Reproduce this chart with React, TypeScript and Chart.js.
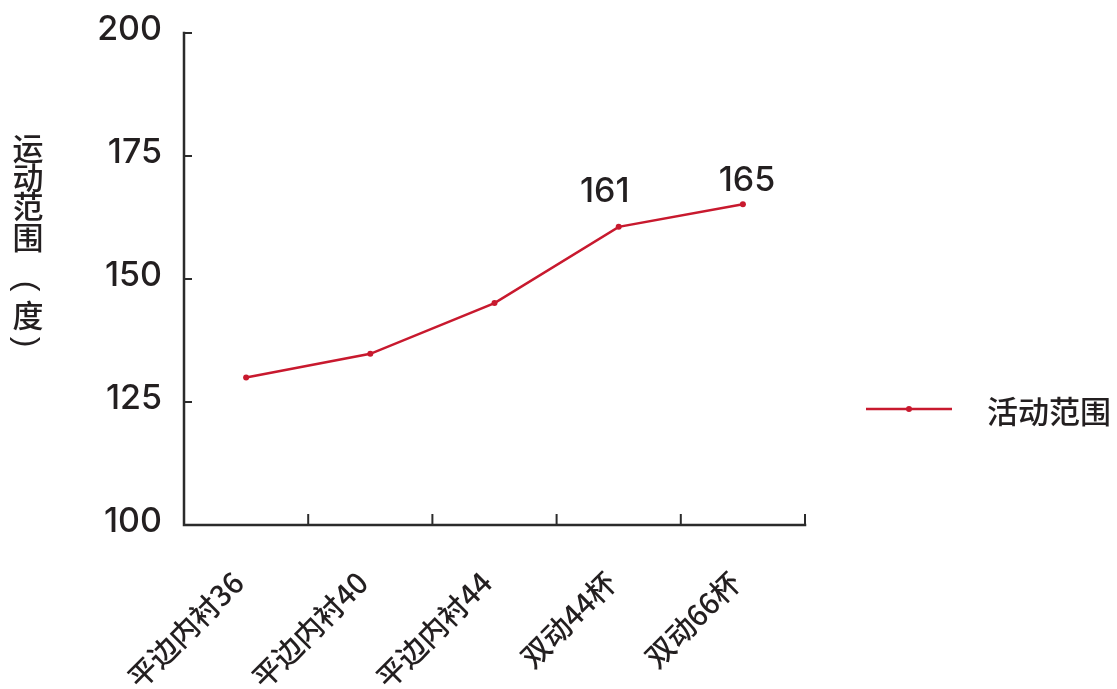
import React, { useEffect, useRef } from "react";
import { Chart, registerables } from "chart.js";

Chart.register(...registerables);

const categories = ["平边内衬36", "平边内衬40", "平边内衬44", "双动44杯", "双动66杯"];
const rangeValues = [130, 134.8, 145.1, 160.6, 165.2];
const pointLabels = ["", "", "", "161", "165"];
const yTicks = [100, 125, 150, 175, 200];
const seriesName = "活动范围";
const yTitleChars = ["运", "动", "范", "围", "(", "度", ")"];

const LINE_COLOR = "#c8192e";
const AXIS_COLOR = "#2b2b2b";
const TEXT_COLOR = "#231f20";
const NUM_FONT = "Inter, 'Liberation Sans', sans-serif";
const CJK_FONT = "'Noto Sans CJK SC', 'Liberation Sans', sans-serif";

const titleCenters = [148, 177, 206, 237, 286, 315, 342];

const decorPlugin = {
  id: "decor",
  afterDraw(chart: any) {
    const { ctx, chartArea, scales } = chart;
    const x = scales.x;
    const y = scales.y;
    ctx.save();
    // axes
    ctx.strokeStyle = AXIS_COLOR;
    ctx.lineWidth = 2.5;
    ctx.lineCap = "square";
    ctx.beginPath();
    ctx.moveTo(chartArea.left, chartArea.top);
    ctx.lineTo(chartArea.left, chartArea.bottom);
    ctx.lineTo(chartArea.right, chartArea.bottom);
    ctx.stroke();
    ctx.lineCap = "butt";
    ctx.lineWidth = 2;
    // y ticks (inward)
    y.ticks.forEach((t: any) => {
      const py = y.getPixelForValue(t.value);
      ctx.beginPath();
      ctx.moveTo(chartArea.left, py);
      ctx.lineTo(chartArea.left + 8, py);
      ctx.stroke();
    });
    // x ticks at category boundaries (inward)
    const n = categories.length;
    for (let i = 0; i < n; i++) {
      const px =
        i < n - 1
          ? (x.getPixelForValue(i) + x.getPixelForValue(i + 1)) / 2
          : chartArea.right;
      ctx.beginPath();
      ctx.moveTo(px, chartArea.bottom);
      ctx.lineTo(px, chartArea.bottom - 11);
      ctx.stroke();
    }
    // data labels
    const meta = chart.getDatasetMeta(0);
    ctx.fillStyle = TEXT_COLOR;
    ctx.font = `500 34px ${NUM_FONT}`;
    ctx.textAlign = "center";
    ctx.textBaseline = "alphabetic";
    meta.data.forEach((pt: any, i: number) => {
      const txt = pointLabels[i];
      if (!txt) return;
      const dx = i === 3 ? -14 : 4;
      const dy = i === 3 ? 25 : 13;
      ctx.fillText(txt, pt.x + dx, pt.y - dy);
    });
    // y title (stacked vertical)
    ctx.textBaseline = "middle";
    ctx.textAlign = "center";
    yTitleChars.forEach((c, i) => {
      const cy = titleCenters[i];
      if (c === "(" || c === ")") {
        ctx.save();
        ctx.font = `32px 'Liberation Sans', sans-serif`;
        ctx.translate(28, cy);
        ctx.rotate(Math.PI / 2);
        ctx.fillText(c, 0, 2);
        ctx.restore();
      } else {
        ctx.font = `500 31px ${CJK_FONT}`;
        ctx.fillText(c, 28, cy);
      }
    });
    // legend
    const ly = 409;
    ctx.strokeStyle = LINE_COLOR;
    ctx.lineWidth = 2.5;
    ctx.beginPath();
    ctx.moveTo(866, ly);
    ctx.lineTo(952, ly);
    ctx.stroke();
    ctx.fillStyle = LINE_COLOR;
    ctx.beginPath();
    ctx.arc(909, ly, 3, 0, Math.PI * 2);
    ctx.fill();
    ctx.fillStyle = TEXT_COLOR;
    ctx.font = `500 31px ${CJK_FONT}`;
    ctx.textAlign = "left";
    ctx.textBaseline = "middle";
    ctx.fillText(seriesName, 987, ly + 2);
    ctx.restore();
  },
};

export default function App() {
  const ref = useRef<HTMLCanvasElement | null>(null);
  useEffect(() => {
    if (!ref.current) return;
    const chart = new Chart(ref.current, {
      type: "line",
      data: {
        labels: categories,
        datasets: [
          {
            label: seriesName,
            data: rangeValues,
            borderColor: LINE_COLOR,
            backgroundColor: LINE_COLOR,
            borderWidth: 2.5,
            pointRadius: 3,
            pointBackgroundColor: LINE_COLOR,
            pointBorderWidth: 0,
            tension: 0,
          },
        ],
      },
      options: {
        responsive: false,
        animation: false,
        layout: { padding: { left: 0, right: 312, top: 33, bottom: 0 } },
        plugins: {
          legend: { display: false },
          tooltip: { enabled: false },
        },
        scales: {
          x: {
            type: "category",
            offset: true,
            grid: { display: false, drawTicks: false },
            border: { display: false },
            ticks: {
              minRotation: 45,
              maxRotation: 45,
              padding: 40,
              labelOffset: -8,
              color: TEXT_COLOR,
              font: { family: CJK_FONT, size: 29, weight: "500" },
            },
            afterFit: (s: any) => {
              s.height = 689 - 525;
              s.paddingLeft = 0;
              s.paddingRight = 0;
            },
          },
          y: {
            min: 100,
            max: 200,
            afterBuildTicks: (s: any) => {
              s.ticks = yTicks.map((v) => ({ value: v }));
            },
            grid: { display: false, drawTicks: false },
            border: { display: false },
            ticks: {
              padding: 22,
              labelOffset: -3,
              color: TEXT_COLOR,
              font: { family: NUM_FONT, size: 34, weight: "500" },
            },
            afterFit: (s: any) => {
              s.width = 184;
              s.paddingTop = 0;
              s.paddingBottom = 0;
            },
          },
        },
      },
      plugins: [decorPlugin],
    });
    return () => chart.destroy();
  }, []);
  return (
    <div style={{ position: "absolute", left: 0, top: 0, width: 1117, height: 689, background: "#fff" }}>
      <canvas ref={ref} width={1117} height={689} />
    </div>
  );
}
